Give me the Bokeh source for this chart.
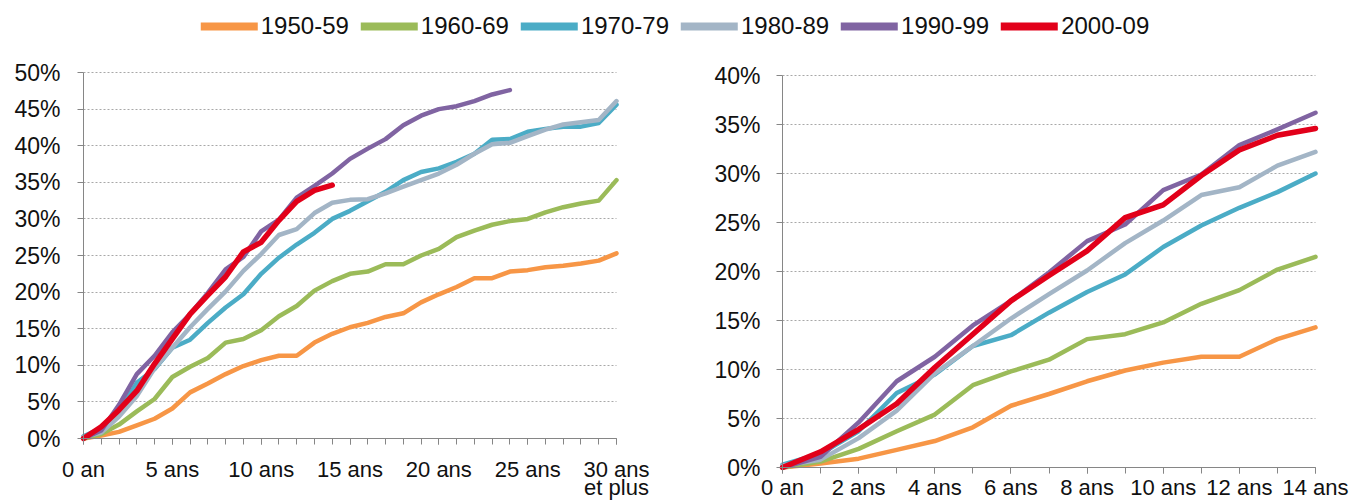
from bokeh.plotting import figure
from bokeh.layouts import column, row
from bokeh.models import Range1d, FixedTicker, Legend, LegendItem, Label, Grid
from bokeh.embed import file_html
from bokeh.resources import INLINE

FONT = "Liberation Sans"

# ---- data (cumulative share, %) by years since ----
years = list(range(31))
series_names = ["1950-59", "1960-69", "1970-79", "1980-89", "1990-99", "2000-09"]
colors = ["#F79646", "#9BBB59", "#4BACC6", "#A3B5C6", "#8064A2", "#E2001A"]

s1950 = [0, 0.4, 0.9, 1.8, 2.7, 4.1, 6.3, 7.5, 8.8, 9.9, 10.7, 11.3, 11.3, 13.1, 14.3,
         15.2, 15.8, 16.6, 17.1, 18.6, 19.7, 20.7, 21.9, 21.9, 22.8, 23.0, 23.4, 23.6, 23.9, 24.3, 25.3]
s1960 = [0, 0.6, 1.9, 3.7, 5.4, 8.4, 9.8, 11.0, 13.1, 13.6, 14.8, 16.7, 18.1, 20.2, 21.5,
         22.5, 22.8, 23.8, 23.8, 25.0, 25.9, 27.5, 28.4, 29.2, 29.7, 30.0, 30.9, 31.6, 32.1, 32.5, 35.3]
s1970 = [0.3, 1.4, 3.7, 7.6, 9.5, 12.4, 13.5, 15.8, 17.9, 19.7, 22.5, 24.7, 26.5, 28.1, 30.0,
         31.1, 32.4, 33.7, 35.3, 36.4, 36.9, 37.8, 38.9, 40.8, 40.9, 41.9, 42.3, 42.6, 42.6, 43.1, 45.6]
s1980 = [0.2, 0.8, 3.0, 5.8, 9.6, 12.4, 15.2, 17.7, 20.1, 22.9, 25.2, 27.8, 28.6, 30.8, 32.2,
         32.6, 32.7, 33.5, 34.4, 35.3, 36.2, 37.4, 38.9, 40.2, 40.4, 41.3, 42.2, 42.9, 43.2, 43.5, 46.1]
s1990 = [0, 1.1, 4.6, 8.8, 11.3, 14.5, 17.0, 19.9, 23.1, 24.8, 28.3, 29.9, 32.9, 34.5, 36.2,
         38.2, 39.6, 40.9, 42.8, 44.1, 45.0, 45.4, 46.1, 47.0, 47.6]
s2000 = [0, 1.6, 3.9, 6.5, 10.2, 13.6, 17.0, 19.6, 22.1, 25.5, 26.8, 29.8, 32.4, 33.9, 34.6]

all_series = [s1950, s1960, s1970, s1980, s1990, s2000]
widths = [4.5, 4.5, 4.5, 4.5, 4.5, 5.5]

left_ticks = [0, 5, 10, 15, 20, 25, 30]
left_labels = ["0 an", "5 ans", "10 ans", "15 ans", "20 ans", "25 ans", "30 ans"]
right_ticks = [0, 2, 4, 6, 8, 10, 12, 14]
right_labels = ["0 an", "2 ans", "4 ans", "6 ans", "8 ans", "10 ans", "12 ans", "14 ans"]

AXIS_COL = "#868686"
GRID_COL = "#a8a8a8"
TEXT_COL = "#111111"

LEG_H = 52            # legend strip: page y 0..52
ROW_H = 448           # plots: page y 52..500
TICK = 6              # tick length


def make_plot(x0, width, xmax, ymax, px_axis_x, px_xmax, px_ytop, px_axis_y,
              xticks, xlabels, xlab_off, ylab_off):
    """Frame = whole canvas; axes fixed at 0, labels written next to them."""
    fx0 = x0                            # page x of frame left
    fx1 = x0 + width                    # page x of frame right
    fy0 = LEG_H                         # page y of frame top
    fy1 = LEG_H + ROW_H                 # page y of frame bottom
    sx = (px_xmax - px_axis_x) / xmax
    sy = (px_axis_y - px_ytop) / ymax
    xr = Range1d(-(px_axis_x - fx0) / sx, xmax + (fx1 - px_xmax) / sx)
    yr = Range1d(-(fy1 - px_axis_y) / sy, ymax + (px_ytop - fy0) / sy)
    p = figure(width=width, height=ROW_H, x_range=xr, y_range=yr,
               output_backend="svg", toolbar_location=None, min_border=0)
    p.outline_line_color = None
    p.xgrid.visible = False

    yt = list(range(0, ymax + 1, 5))
    g = p.ygrid[0]
    g.ticker = FixedTicker(ticks=yt)
    g.grid_line_color = GRID_COL
    g.grid_line_dash = "2 2"
    g.grid_line_width = 1
    if "cross_bounds" in Grid.properties():
        g.cross_bounds = (0, xmax)
    else:
        g.visible = False
        p.segment(x0=[0] * len(yt), x1=[xmax] * len(yt), y0=yt, y1=yt,
                  line_color=GRID_COL, line_dash="2 2", line_width=1)

    ya = p.yaxis[0]
    ya.fixed_location = 0
    ya.bounds = (0, ymax)
    ya.ticker = FixedTicker(ticks=yt)
    xa = p.xaxis[0]
    xa.fixed_location = 0
    xa.bounds = (0, xmax)
    xa.ticker = FixedTicker(ticks=xticks, minor_ticks=list(range(0, xmax + 1)))
    for ax, tk in ((xa, xticks), (ya, yt)):
        ax.major_label_overrides = {t: "" for t in tk}
        ax.major_label_text_font_size = "0px"
        ax.major_label_standoff = 0
        ax.axis_line_color = AXIS_COL
        ax.major_tick_line_color = AXIS_COL
        ax.minor_tick_line_color = AXIS_COL
        ax.major_tick_in = 0
        ax.minor_tick_in = 0
        ax.major_tick_out = TICK
    xa.minor_tick_out = TICK
    ya.minor_tick_out = 0

    for t, l in zip(xticks, xlabels):
        p.add_layout(Label(x=t, y=0, y_offset=xlab_off, text=l, text_align="center",
                           text_baseline="middle", text_font=FONT, text_font_size="22px",
                           text_color=TEXT_COL))
    for v in yt:
        p.add_layout(Label(x=0, y=v, x_offset=ylab_off, text=f"{v}%", text_align="right",
                           text_baseline="middle", text_font=FONT, text_font_size="23px",
                           text_color=TEXT_COL))

    for s, c, w in zip(all_series, colors, widths):
        n = min(len(s), xmax + 1)
        p.line(years[:n], s[:n], line_color=c, line_width=w, line_join="round", line_cap="round")
    return p


# left chart: x 0..30 at page x 83..616 ; 50 % at page y 72, 0 % at page y 438
p1 = make_plot(0, 680, 30, 50, 83, 616, 72, 438, left_ticks, left_labels, -31, -23)
p1.add_layout(Label(x=30, y=0, y_offset=-49, text="et plus", text_align="center",
                    text_baseline="middle", text_font=FONT, text_font_size="22px",
                    text_color=TEXT_COL))
# right chart: x 0..14 at page x 782..1315 ; 40 % at page y 75, 0 % at page y 467
p2 = make_plot(680, 670, 14, 40, 782, 1315, 75, 467, right_ticks, right_labels, -20, -22)

# legend strip
leg = figure(width=1350, height=LEG_H, output_backend="svg", toolbar_location=None,
             x_axis_location=None, y_axis_location=None, min_border=0,
             x_range=Range1d(0, 1), y_range=Range1d(0, 1))
leg.outline_line_color = None
leg.grid.visible = False
items = []
for name, c in zip(series_names, colors):
    r = leg.line(x=[5, 6], y=[5, 5], line_color=c, line_width=8, line_cap="round")
    items.append(LegendItem(label=name, renderers=[r]))
legend = Legend(items=items, orientation="horizontal", location="center",
                label_text_font=FONT, label_text_font_size="24px", label_text_color=TEXT_COL,
                glyph_width=57, glyph_height=24, label_height=24, label_standoff=3, spacing=12,
                padding=0, margin=0, border_line_color=None, background_fill_alpha=0)
leg.add_layout(legend, "center")

layout = column(leg, row(p1, p2, spacing=0), spacing=0)

open("out.html", "w").write(file_html(layout, INLINE))
